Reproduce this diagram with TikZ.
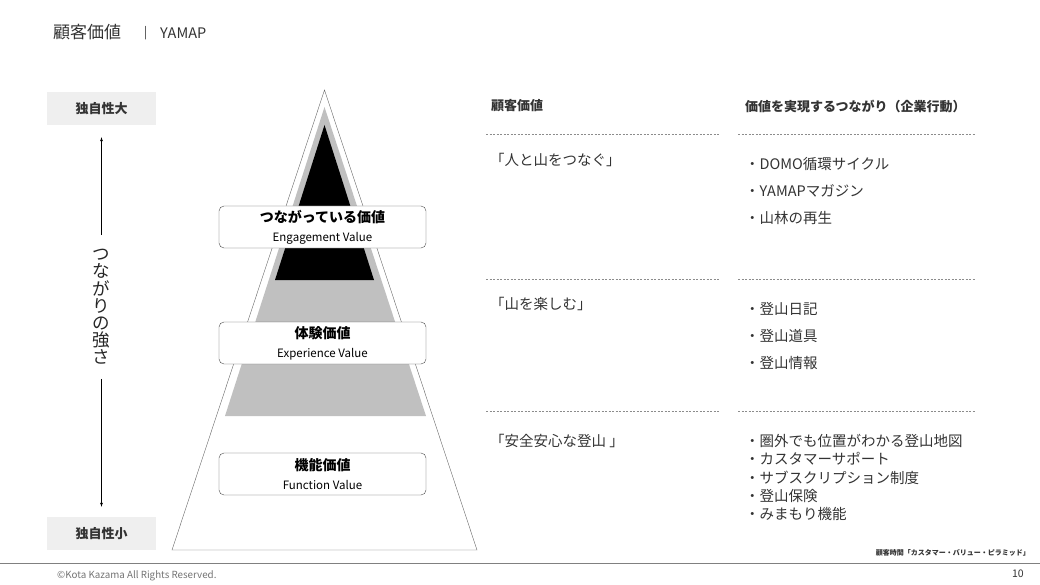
\documentclass[tikz,border=0pt]{standalone}
\usepackage{fontspec}
\setmainfont{Noto Sans CJK JP}
\usepackage{xcolor}
\usepackage{tikz}
\usetikzlibrary{arrows}
\usetikzlibrary{positioning}
\definecolor{inkgray}{HTML}{333333}
\definecolor{panelgray}{HTML}{EFEFEF}
\definecolor{midgray}{HTML}{C0C0C0}
\tikzset{
  myarrow/.style={
    draw=black,
    -latex,
    shorten <=14pt,
    shorten >=12pt,
  },
  valuebox/.style={
    draw=black!70,
    fill=white,
    shape=rectangle,
    rounded corners=5pt,
    align=center,
    inner sep=0pt,
    minimum width=207pt,
    minimum height=42pt,
    text=black,
    font=\fontsize{14}{19}\selectfont\bfseries
  },
  scalebox/.style={
    fill=panelgray,
    shape=rectangle,
    minimum width=109pt,
    minimum height=33pt,
    text=inkgray,
    font=\fontsize{13}{15}\selectfont\bfseries
  },
  headtext/.style={
    anchor=west,
    inner sep=0pt,
    text=inkgray,
    font=\fontsize{13}{15}\selectfont\bfseries
  },
  itemtext/.style={
    anchor=west,
    inner sep=0pt,
    align=left,
    text=inkgray,
    font=\fontsize{14.5}{27}\selectfont
  },
  sepline/.style={
    draw=black!45,
    dash pattern=on 2pt off 1.5pt,
  }
}

\begin{document}
\begin{tikzpicture}[x=1pt, y=-1pt]
    \useasboundingbox (0, 0) rectangle (1040, 585);

    % title
    \node [anchor=west, inner sep=0pt, text=inkgray, font=\fontsize{17}{19}\selectfont] (title) at (53, 32) {顧客価値};
    \node [anchor=west, inner sep=0pt, text=inkgray, font=\fontsize{12}{14}\selectfont] (bar) at (144, 33) {|};
    \node [anchor=west, inner sep=0pt, text=inkgray, font=\fontsize{14.5}{16}\selectfont] (brand) at (160, 33) {YAMAP};

    % scale on the left
    \node [scalebox] (high) at (101.5, 108.5) {独自性大};
    \node [scalebox] (low) at (101.5, 533.5) {独自性小};
    \node [align=center, inner sep=0pt, text=black!85, font=\fontsize{17.5}{17.2}\selectfont] (strength) at (101.5, 307) {つ\\な\\が\\り\\の\\強\\さ};
    \draw [myarrow] (strength.north) to (high.south);
    \draw [myarrow, shorten >=10pt] (strength.south) to (low.north);

    % pyramid
    \draw [draw=black!60, fill=white] (324.5, 90) -- (172, 550) -- (477, 550) -- cycle;
    \fill [midgray] (324.5, 107) -- (225, 416) -- (426, 416) -- cycle;
    \fill [black] (324.5, 125) -- (275, 280) -- (374, 280) -- cycle;

    \node [valuebox] (Engage) at (322.5, 227) {つながっている価値\\{\fontsize{11.5}{19}\selectfont\mdseries Engagement Value}};
    \node [valuebox] (Experience) at (322.5, 343) {体験価値\\{\fontsize{11.5}{19}\selectfont\mdseries Experience Value}};
    \node [valuebox] (Function) at (322.5, 474) {機能価値\\{\fontsize{11.5}{19}\selectfont\mdseries Function Value}};

    % table
    \node [headtext] (headValue) at (491, 106) {顧客価値};
    \node [headtext] (headLink) at (745, 106) {価値を実現するつながり（企業行動）};

    \draw [sepline] (486, 134) -- (720, 134);
    \draw [sepline] (738, 134) -- (975, 134);
    \draw [sepline] (486, 279) -- (720, 279);
    \draw [sepline] (738, 279) -- (975, 279);
    \draw [sepline] (486, 411) -- (720, 411);
    \draw [sepline] (738, 411) -- (975, 411);

    \node [itemtext] (valEngage) at (490, 160) {「人と山をつなぐ」};
    \node [itemtext] (linkEngage) at (745, 191) {・DOMO循環サイクル\\・YAMAPマガジン\\・山林の再生};

    \node [itemtext] (valExperience) at (490, 304) {「山を楽しむ」};
    \node [itemtext] (linkExperience) at (745, 336) {・登山日記\\・登山道具\\・登山情報};

    \node [itemtext] (valFunction) at (490, 441) {「安全安心な登山 」};
    \node [itemtext, font=\fontsize{14.5}{18.3}\selectfont] (linkFunction) at (745, 477.5) {・圏外でも位置がわかる登山地図\\・カスタマーサポート\\・サブスクリプション制度\\・登山保険\\・みまもり機能};

    % footer
    \node [anchor=east, inner sep=0pt, text=inkgray, font=\fontsize{7}{8}\selectfont\bfseries] (source) at (1030, 553) {顧客時間「カスタマー・バリュー・ピラミッド」};
    \draw [draw=black!50] (0, 563) -- (1040, 563);
    \node [anchor=west, inner sep=0pt, text=black!55, font=\fontsize{9.8}{11}\selectfont] (copy) at (57, 576) {©Kota Kazama All Rights Reserved.};
    \node [anchor=east, inner sep=0pt, text=inkgray, font=\fontsize{10.5}{12}\selectfont] (page) at (1024, 574) {10};

  \end{tikzpicture}
\end{document}
